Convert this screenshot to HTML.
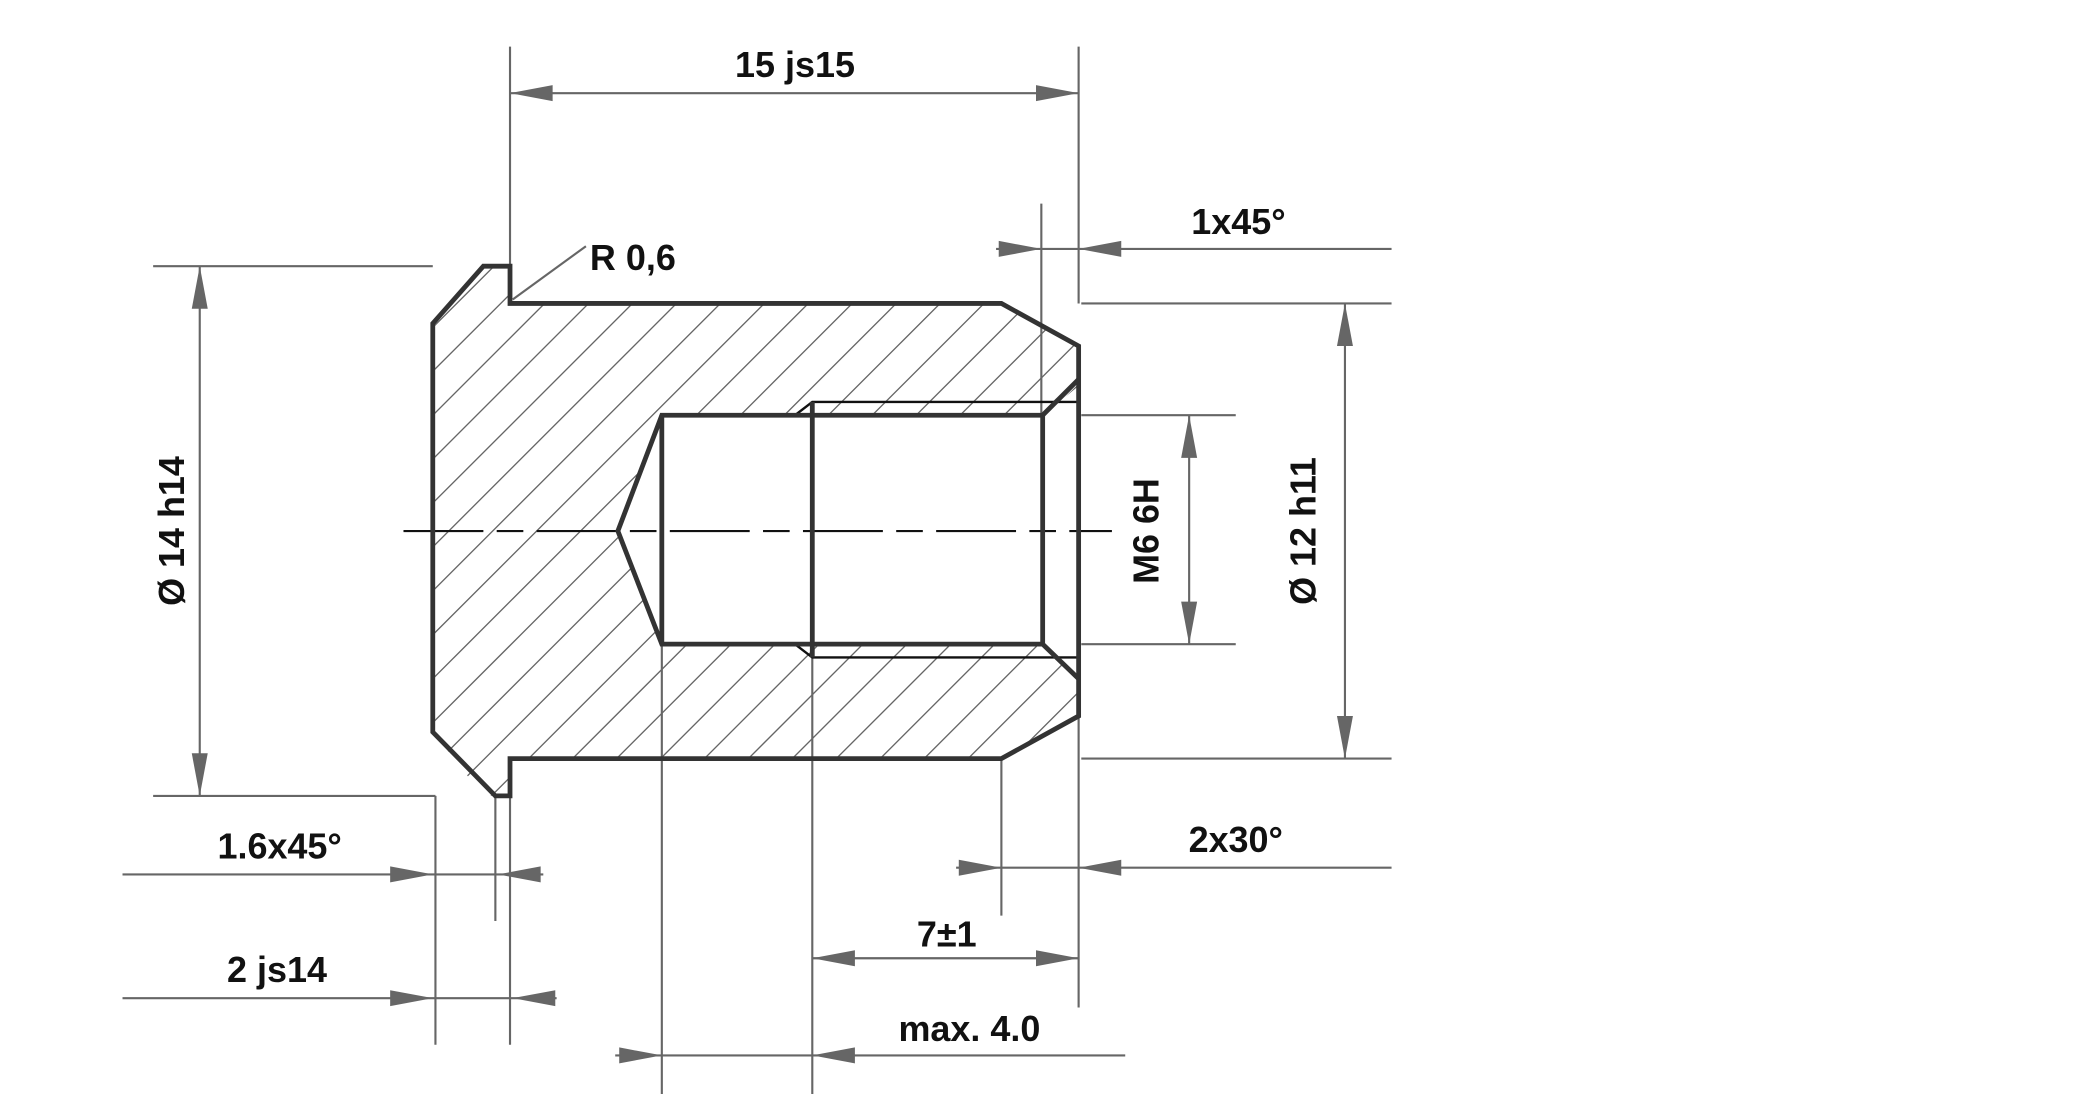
<!DOCTYPE html>
<html><head><meta charset="utf-8"><style>
html,body{margin:0;padding:0;background:#fff;width:2088px;height:1094px;overflow:hidden;}
svg{display:block;}
text{font-family:"Liberation Sans",Arial,sans-serif;font-weight:bold;font-size:27px;fill:#111;}
</style></head><body>
<svg width="2088" height="1094" viewBox="0 0 1568 822" preserveAspectRatio="none" xmlns="http://www.w3.org/2000/svg">
<defs>
<clipPath id="sec">
<path d="M325,243 L363,200 L373,200 L383,208 L383,228 L752,228 L810,260 L810,290 L783,312 L497,312 L464,399 L497,484 L783,484 L810,510 L810,538 L752,570 L383,570 L383,590 L372,598 L363,598 L325,550 Z"/>
</clipPath>
<g id="ar"><polygon points="0,0 -32,-6 -32,6" fill="#666"/></g>
</defs>
<g clip-path="url(#sec)" stroke="#666" stroke-width="1">
<path d="M100,900 L1000,0 M133,900 L1033,0 M166,900 L1066,0 M199,900 L1099,0 M232,900 L1132,0 M265,900 L1165,0 M298,900 L1198,0 M331,900 L1231,0 M364,900 L1264,0 M397,900 L1297,0 M430,900 L1330,0 M463,900 L1363,0 M496,900 L1396,0 M529,900 L1429,0 M562,900 L1462,0 M595,900 L1495,0 M628,900 L1528,0 M661,900 L1561,0 M694,900 L1594,0 M727,900 L1627,0 M760,900 L1660,0 M793,900 L1693,0 M826,900 L1726,0 M67,900 L967,0 M34,900 L934,0 M1,900 L901,0 M-32,900 L868,0 M-65,900 L835,0 M-98,900 L802,0 M-131,900 L769,0 M-164,900 L736,0 M-197,900 L703,0 M-230,900 L670,0 M-263,900 L637,0 M-296,900 L604,0 M-329,900 L571,0 M-362,900 L538,0 M-395,900 L505,0 M-428,900 L472,0 M-461,900 L439,0 M-494,900 L406,0"/>
</g>
<g stroke="#666" stroke-width="1.6" fill="none">
<path d="M383,35 V200 M810,35 V228 M383,70 H810"/>
<path d="M782,153 V312 M748,187 H1045"/>
<path d="M812,228 H1045 M812,570 H1045 M1010,228 V570"/>
<path d="M812,312 H928 M812,484 H928 M893,312 V484"/>
<path d="M115,200 H325 M115,598 H327 M150,200 V598"/>
<path d="M385,225 L440,185"/>
<path d="M327,598 V785 M372,598 V692 M92,657 H408"/>
<path d="M383,590 V785 M92,750 H418"/>
<path d="M752,570 V688 M810,538 V757 M718,652 H1045"/>
<path d="M610,494 V822 M610,720 H810"/>
<path d="M497,484 V822 M462,793 H845"/>
</g>
<use href="#ar" transform="translate(383,70) rotate(180)"/>
<use href="#ar" transform="translate(810,70)"/>
<use href="#ar" transform="translate(782,187)"/>
<use href="#ar" transform="translate(810,187) rotate(180)"/>
<use href="#ar" transform="translate(1010,228) rotate(-90)"/>
<use href="#ar" transform="translate(1010,570) rotate(90)"/>
<use href="#ar" transform="translate(893,312) rotate(-90)"/>
<use href="#ar" transform="translate(893,484) rotate(90)"/>
<use href="#ar" transform="translate(150,200) rotate(-90)"/>
<use href="#ar" transform="translate(150,598) rotate(90)"/>
<use href="#ar" transform="translate(325,657)"/>
<use href="#ar" transform="translate(374,657) rotate(180)"/>
<use href="#ar" transform="translate(325,750)"/>
<use href="#ar" transform="translate(385,750) rotate(180)"/>
<use href="#ar" transform="translate(752,652)"/>
<use href="#ar" transform="translate(810,652) rotate(180)"/>
<use href="#ar" transform="translate(610,720) rotate(180)"/>
<use href="#ar" transform="translate(810,720)"/>
<use href="#ar" transform="translate(497,793)"/>
<use href="#ar" transform="translate(610,793) rotate(180)"/>
<path d="M303,399 H835" stroke="#111" stroke-width="1.6" stroke-dasharray="60,10,20,10"/>
<g stroke="#111" stroke-width="1.8" fill="none">
<path d="M597,312 L610,302 H810 M597,484 L610,494 H810"/>
</g>
<g stroke="#333" stroke-width="3.6" fill="none" stroke-linejoin="miter">
<path d="M325,243 L363,200 L383,200 L383,228 L752,228 L810,260 L810,538 L752,570 L383,570 L383,598 L372,598 L325,550 Z"/>
<path d="M810,285 L783,312 L497,312 L464,399 L497,484 L783,484 L810,510"/>
<path d="M497,312 V484 M610,302 V494 M783,312 V484"/>
</g>
<text x="597" y="58" text-anchor="middle">15 js15</text>
<text x="930" y="176" text-anchor="middle">1x45°</text>
<text x="443" y="203">R 0,6</text>
<text x="210" y="645" text-anchor="middle">1.6x45°</text>
<text x="208" y="738" text-anchor="middle">2 js14</text>
<text x="928" y="640" text-anchor="middle">2x30°</text>
<text x="711" y="711" text-anchor="middle">7±1</text>
<text x="728" y="782" text-anchor="middle">max. 4.0</text>
<text transform="translate(138,399) rotate(-90)" text-anchor="middle">Ø 14 h14</text>
<text transform="translate(870,399) rotate(-90)" text-anchor="middle">M6 6H</text>
<text transform="translate(988,399) rotate(-90)" text-anchor="middle">Ø 12 h11</text>
</svg>
</body></html>
